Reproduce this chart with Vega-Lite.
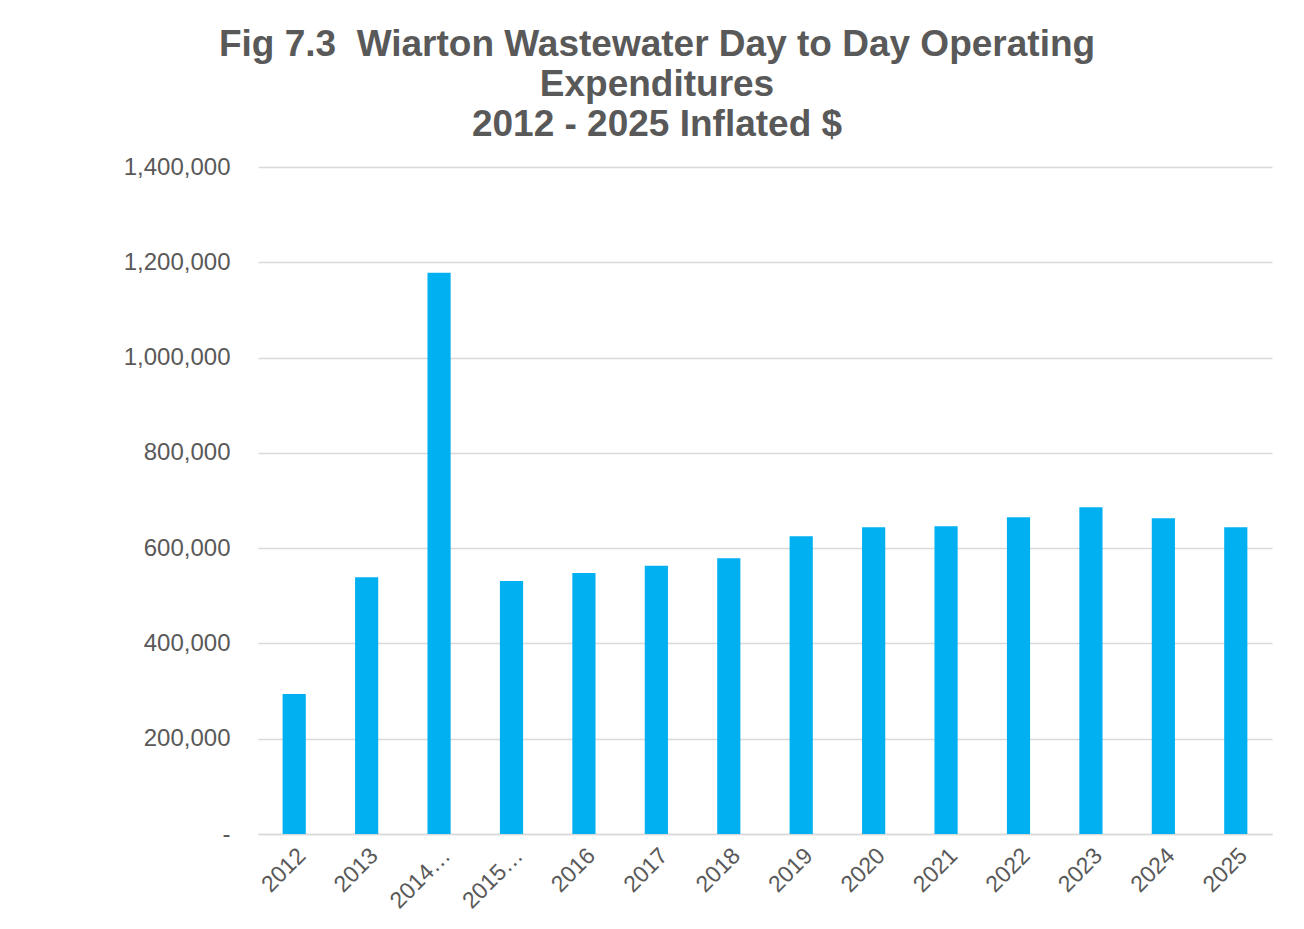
{
  "$schema": "https://vega.github.io/schema/vega-lite/v6.json",
  "autosize": "none",
  "width": 1014,
  "height": 667,
  "padding": {"left": 258, "top": 167, "right": 32, "bottom": 95},
  "background": "white",
  "title": {
    "text": ["Fig 7.3\u00a0 Wiarton Wastewater Day to Day Operating", "Expenditures", "2012 - 2025 Inflated $"],
    "font": "Liberation Sans",
    "fontSize": 37,
    "fontWeight": "bold",
    "color": "#595959",
    "anchor": "middle",
    "dx": -108,
    "offset": 11,
    "lineHeight": 40
  },
  "data": {
    "values": [
      {"year": "2012", "value": 294000},
      {"year": "2013", "value": 539000},
      {"year": "2014…", "value": 1178000},
      {"year": "2015…", "value": 531000},
      {"year": "2016", "value": 548000},
      {"year": "2017", "value": 563000},
      {"year": "2018", "value": 579000},
      {"year": "2019", "value": 625000},
      {"year": "2020", "value": 644000},
      {"year": "2021", "value": 646000},
      {"year": "2022", "value": 665000},
      {"year": "2023", "value": 686000},
      {"year": "2024", "value": 663000},
      {"year": "2025", "value": 644000}
    ]
  },
  "mark": {"type": "bar", "color": "#00B0F0"},
  "encoding": {
    "x": {
      "field": "year",
      "type": "nominal",
      "sort": null,
      "scale": {"paddingInner": 0.68, "paddingOuter": 0.34},
      "axis": {
        "title": null,
        "labelAngle": -45,
        "labelAlign": "right",
        "labelBaseline": "top",
        "labelFont": "Liberation Sans",
        "labelFontSize": 23,
        "labelColor": "#595959",
        "labelPadding": 10,
        "labelOverlap": false,
        "ticks": false,
        "domainColor": "#d9d9d9",
        "domainWidth": 1.5,
        "grid": false
      }
    },
    "y": {
      "field": "value",
      "type": "quantitative",
      "scale": {"domain": [0, 1400000], "nice": false},
      "axis": {
        "title": null,
        "values": [0, 200000, 400000, 600000, 800000, 1000000, 1200000, 1400000],
        "labelExpr": "datum.value == 0 ? '-' : format(datum.value, ',')",
        "labelFont": "Liberation Sans",
        "labelFontSize": 24,
        "labelColor": "#595959",
        "labelPadding": 28,
        "ticks": false,
        "domain": false,
        "grid": true,
        "gridColor": "#d9d9d9",
        "gridWidth": 1.5
      }
    }
  },
  "config": {"view": {"stroke": null}}
}
